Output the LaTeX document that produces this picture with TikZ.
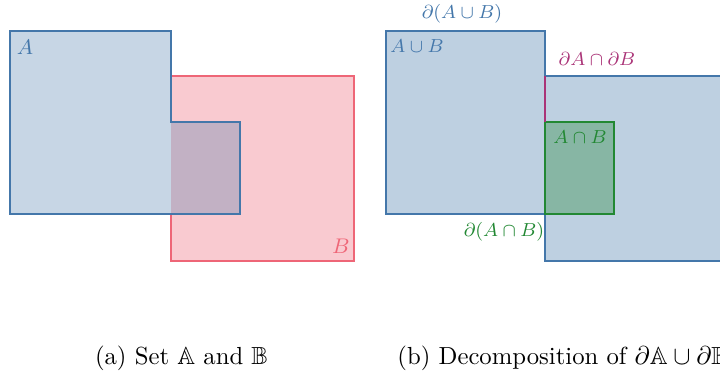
\documentclass[tikz,border=0pt]{standalone}
\usepackage{amsmath,amssymb}
\usepackage{xcolor}
\usepackage{tikz}
\usetikzlibrary{positioning}
\definecolor{tblue}{HTML}{4477AA}
\definecolor{tred}{HTML}{EE6677}
\definecolor{tgreen}{HTML}{228833}
\definecolor{tpurple}{HTML}{AA3377}
\tikzset{
  fillA/.style={fill=tblue,fill opacity=0.3},
  fillB/.style={fill=tred,fill opacity=0.35},
  bline/.style={thick,line join=miter},
  lab/.style={font=\fontsize{7.6}{9}\selectfont,inner sep=1pt},
  setlab/.style={font=\small,inner sep=1pt},
  captxt/.style={font=\fontsize{10.5}{13}\selectfont,inner sep=0pt}
}
\begin{document}
\begin{tikzpicture}[x=0.425pt,y=-0.425pt]
\useasboundingbox (0,0) rectangle (720,377);
\fill[fillB] (171,76) rectangle (354,261);
\fill[fillA] (10,31)--(171,31)--(171,122)--(240,122)--(240,214)--(10,214)--cycle;
\draw[bline,tred] (171,214)--(171,261)--(354,261)--(354,76)--(171,76);
\draw[bline,tblue] (10,31)--(171,31)--(171,122)--(240,122)--(240,214)--(10,214)--cycle;
\node[setlab,text=tblue] (labA) at (25,47) {$A$};
\node[setlab,text=tred] (labB) at (341,246) {$B$};
\fill[fillA,fill opacity=0.35] (386,31)--(545,31)--(545,76)--(730,76)--(730,261)--(545,261)--(545,214)--(386,214)--cycle;
\draw[bline,tblue] (386,31)--(545,31)--(545,76)--(730,76)--(730,261)--(545,261)--(545,214)--(386,214)--cycle;
\fill[fill=tgreen,fill opacity=0.35] (545,122) rectangle (614,214);
\draw[bline,tgreen] (545,122) rectangle (614,214);
\draw[bline,tpurple] (545,76)--(545,122);
\node[lab,text=tblue] (bdU) at (462,14) {$\partial(A\cup B)$};
\node[lab,text=tblue] (setU) at (417,46) {$A\cup B$};
\node[lab,text=tpurple] (bdAB) at (597,59) {$\partial A\cap\partial B$};
\node[lab,text=tgreen] (setI) at (580,137) {$A\cap B$};
\node[lab,text=tgreen] (bdI) at (504,232) {$\partial(A\cap B)$};
\node[captxt] (capa) at (181.5,358) {(a) Set $\mathbb{A}$ and $\mathbb{B}$};
\node[captxt,anchor=west] (capb) at (397,358) {(b) Decomposition of $\partial\mathbb{A}\cup\partial\mathbb{B}$};
\end{tikzpicture}
\end{document}
